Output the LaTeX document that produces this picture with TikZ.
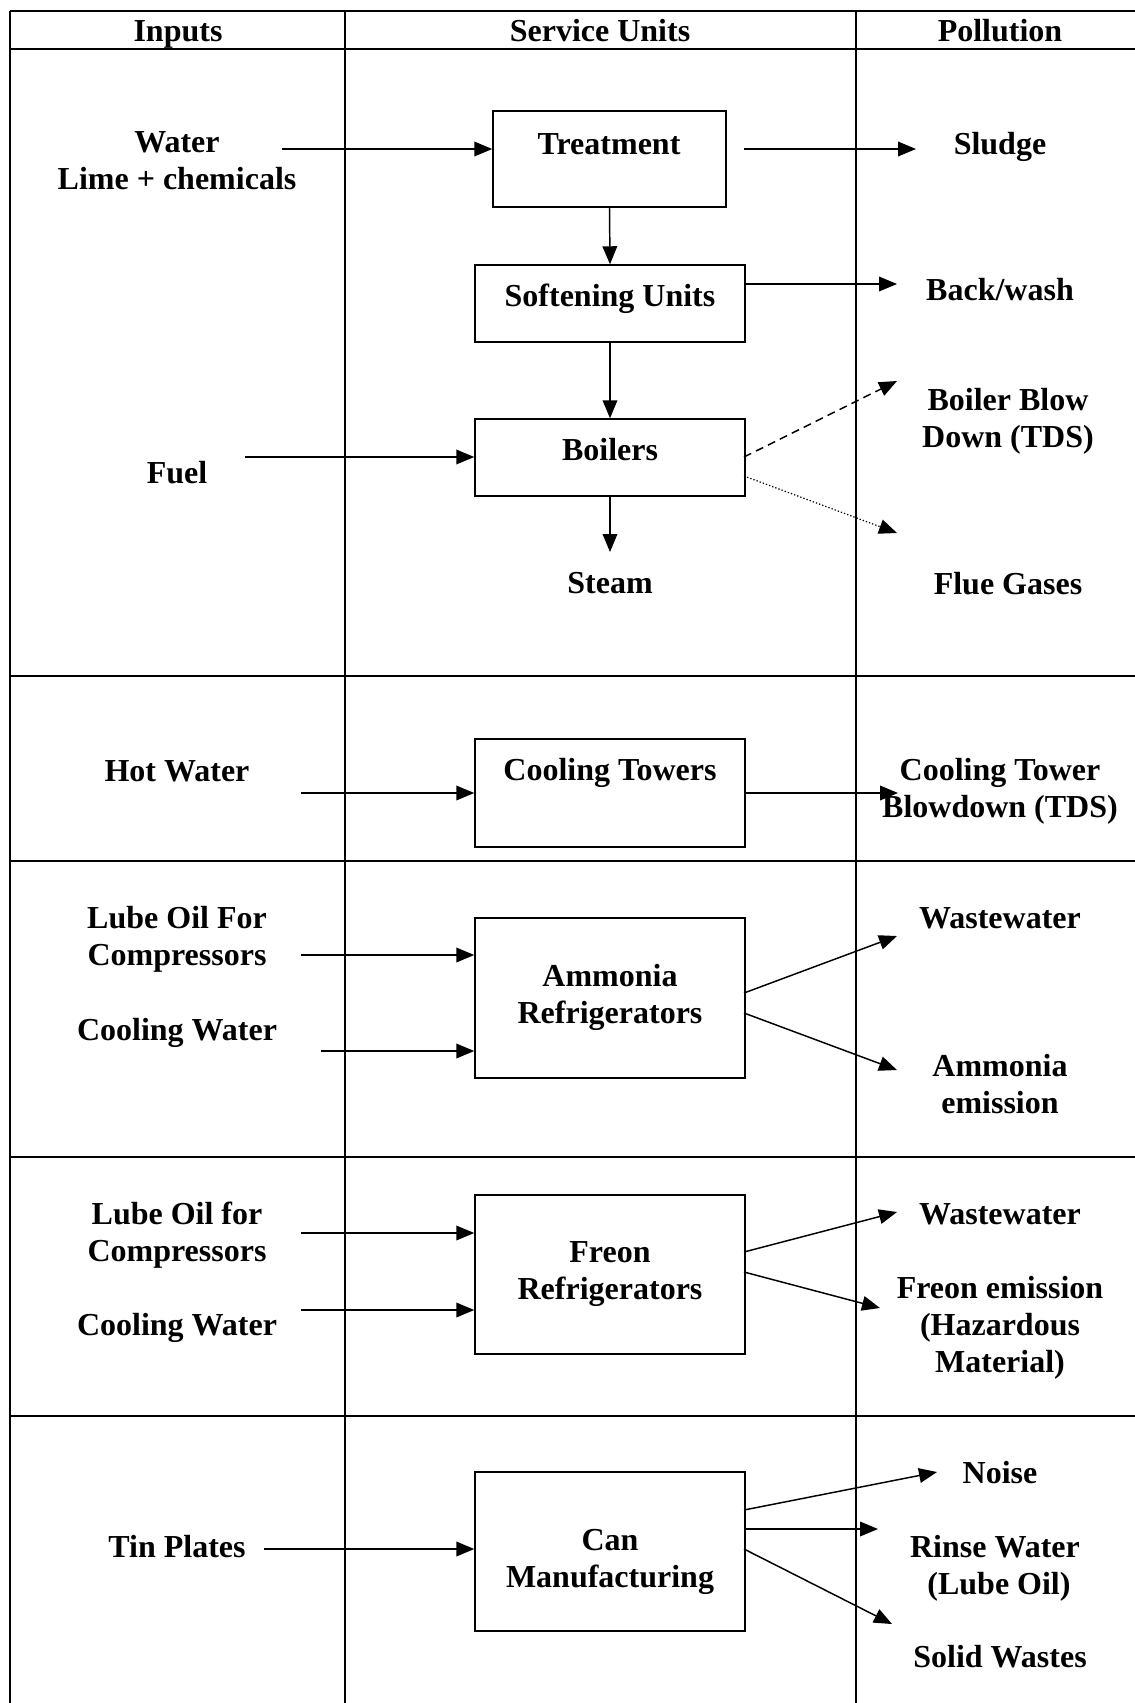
\documentclass[tikz,border=0pt]{standalone}
\usepackage{fontspec}
\setmainfont{Liberation Serif}
\usetikzlibrary{arrows.meta}
\newdimen\pxu
\pxu=0.75pt
\begin{document}
\begin{tikzpicture}[x=0.75pt,y=-0.75pt,
  grid/.style={line width=1.5pt},
  unitbox/.style={draw,line width=1.1pt,inner sep=0pt,minimum width=270\pxu},
  lbl/.style={inner sep=0pt,align=center,font=\fontsize{24}{27.75}\selectfont\bfseries},
  arr/.style={line width=1.1pt,-{Triangle[length=13.5pt,width=11pt]}},
  dasharr/.style={arr,dash pattern=on 6pt off 4pt},
  dotarr/.style={arr,line width=0.9pt,dash pattern=on 1pt off 1.5pt}]
\useasboundingbox (0,0) rectangle (1135,1703);
\fill[white] (0,0) rectangle (1135,1703);

% table grid (open on the right and at the bottom)
\draw[grid] (10,11) -- (1135,11);
\draw[grid] (10,49) -- (1135,49);
\foreach \y in {676,861,1157,1416} \draw[grid] (10,\y) -- (1135,\y);
\draw[grid] (10,11) -- (10,1703);
\draw[grid] (345,11) -- (345,1703);
\draw[grid] (856,11) -- (856,1703);

% column headings
\node[lbl] (hin) at (178,34) {Inputs};
\node[lbl] (hsu) at (600,31) {Service Units};
\node[lbl] (hpo) at (1000,31) {Pollution};

% service unit boxes
\node[unitbox,minimum width=233\pxu,minimum height=96\pxu] (treat) at (609.5,159) {};
\node[unitbox,minimum height=77\pxu] (soft) at (610,303.5) {};
\node[unitbox,minimum height=77\pxu] (boil) at (610,457.5) {};
\node[unitbox,minimum height=108\pxu] (cool) at (610,793) {};
\node[unitbox,minimum height=160\pxu] (amm) at (610,998) {};
\node[unitbox,minimum height=159\pxu] (freon) at (610,1274.5) {};
\node[unitbox,minimum height=159\pxu] (can) at (610,1551.5) {};

% box captions
\node[lbl] (treatT) at (609,144) {Treatment};
\node[lbl] (softT) at (610,299) {Softening Units};
\node[lbl] (boilT) at (610,450) {Boilers};
\node[lbl] (coolT) at (610,773) {Cooling Towers};
\node[lbl] (ammT) at (610,997) {Ammonia\\Refrigerators};
\node[lbl] (freonT) at (610,1274.5) {Freon\\Refrigerators};
\node[lbl] (canT) at (610,1561.5) {Can\\Manufacturing};
\node[lbl] (steam) at (610,583) {Steam};

% inputs
\node[lbl] (water) at (177,161) {Water\\Lime + chemicals};
\node[lbl] (fuel) at (177,473) {Fuel};
\node[lbl] (hotw) at (177,771) {Hot Water};
\node[lbl] (lube1) at (177,939.5) {Lube Oil For\\Compressors};
\node[lbl] (cw1) at (177,1033) {Cooling Water};
\node[lbl] (lube2) at (177,1235) {Lube Oil for\\Compressors};
\node[lbl] (cw2) at (177,1328) {Cooling Water};
\node[lbl] (tin) at (177,1547) {Tin Plates};

% pollution outputs
\node[lbl] (sludge) at (1000,147) {Sludge};
\node[lbl] (backw) at (1000,290) {Back/wash};
\node[lbl] (bbd) at (1008,421.5) {Boiler Blow\\Down (TDS)};
\node[lbl] (flue) at (1008,584) {Flue Gases};
\node[lbl] (ctb) at (1000,791) {Cooling Tower\\Blowdown (TDS)};
\node[lbl] (ww1) at (1000,918) {Wastewater};
\node[lbl] (ammE) at (1000,1084) {Ammonia\\emission};
\node[lbl] (ww2) at (1000,1214) {Wastewater};
\node[lbl] (fE) at (1000,1328) {Freon emission\\(Hazardous\\Material)};
\node[lbl] (noise) at (1000,1473) {Noise};
\node[lbl] (rinse) at (995,1568.5) {Rinse Water\\\ (Lube Oil)};
\node[lbl] (solid) at (1000,1657) {Solid Wastes};

% connector end points
\coordinate (waterS) at (282,149);
\coordinate (sludgeS) at (744,149);
\coordinate (sludgeE) at (916,149);
\coordinate (backwE) at (897,284);
\coordinate (fuelS) at (245,457);
\coordinate (steamE) at (610,552);
\coordinate (bbdS) at (744,457);
\coordinate (bbdE) at (897,381);
\coordinate (flueS) at (744,476);
\coordinate (flueE) at (897,533);
\coordinate (hotwS) at (301,793);
\coordinate (ctbE) at (898,793);
\coordinate (lube1S) at (301,955);
\coordinate (cw1S) at (321,1051);
\coordinate (ww1S) at (744,993);
\coordinate (ww1E) at (897,936);
\coordinate (ammES) at (744,1013);
\coordinate (ammEE) at (897,1070);
\coordinate (lube2S) at (301,1233);
\coordinate (cw2S) at (301,1310);
\coordinate (ww2S) at (744,1252);
\coordinate (ww2E) at (897,1212);
\coordinate (fES) at (744,1272);
\coordinate (fEE) at (880,1308);
\coordinate (tinS) at (264,1549);
\coordinate (noiseS) at (744,1510);
\coordinate (noiseE) at (937,1472);
\coordinate (rinseS) at (744,1529);
\coordinate (rinseE) at (878,1529);
\coordinate (solidS) at (744,1549);
\coordinate (solidE) at (892,1624);

% steam raising line
\draw[arr] (waterS) -- (waterS -| treat.west);
\draw[arr] (sludgeS) -- (sludgeE);
\draw[arr] (treat.south) -- (soft.north);
\draw[arr] (soft.east |- backwE) -- (backwE);
\draw[arr] (soft.south) -- (boil.north);
\draw[arr] (fuelS) -- (fuelS -| boil.west);
\draw[arr] (boil.south) -- (steamE);
\draw[dasharr] (bbdS) -- (bbdE);
\draw[dotarr] (flueS) -- (flueE);

% cooling towers
\draw[arr] (hotwS) -- (hotwS -| cool.west);
\draw[arr] (cool.east) -- (ctbE);

% ammonia refrigeration
\draw[arr] (lube1S) -- (lube1S -| amm.west);
\draw[arr] (cw1S) -- (cw1S -| amm.west);
\draw[arr] (ww1S) -- (ww1E);
\draw[arr] (ammES) -- (ammEE);

% freon refrigeration
\draw[arr] (lube2S) -- (lube2S -| freon.west);
\draw[arr] (cw2S) -- (cw2S -| freon.west);
\draw[arr] (ww2S) -- (ww2E);
\draw[arr] (fES) -- (fEE);

% can manufacturing
\draw[arr] (tinS) -- (tinS -| can.west);
\draw[arr] (noiseS) -- (noiseE);
\draw[arr] (rinseS) -- (rinseE);
\draw[arr] (solidS) -- (solidE);
\end{tikzpicture}
\end{document}
